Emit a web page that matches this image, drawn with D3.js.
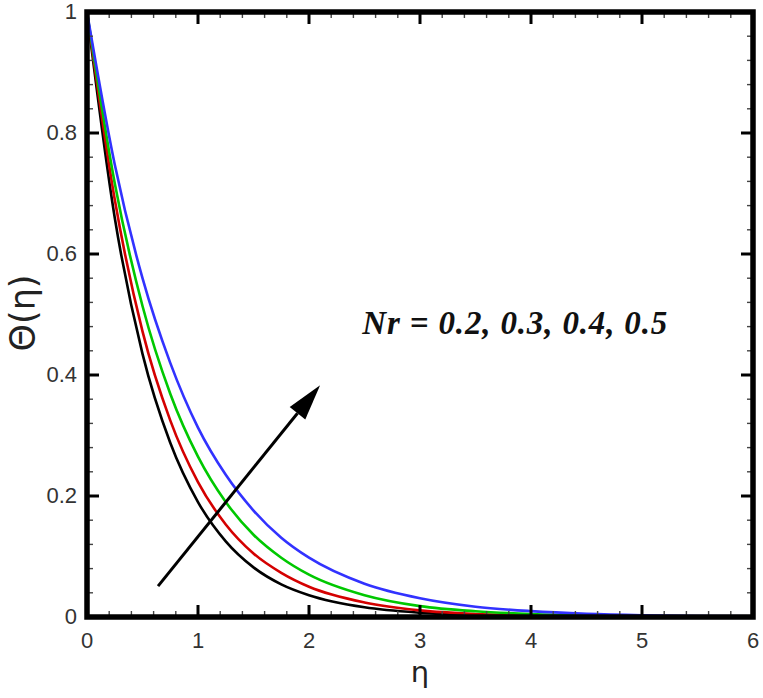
<!DOCTYPE html>
<body style="margin:0;background:#fff">
<svg width="763" height="698"></svg>
</body>
<script src="https://d3js.org/d3.v7.min.js"></script>
<script>

// eta grid and theta profiles
var eta = [0, 0.25, 0.5, 0.75, 1, 1.25, 1.5, 1.75, 2, 2.5, 3, 3.5, 4, 4.5, 5, 5.5, 6];
var nr02 = [1, 0.66, 0.435, 0.288, 0.19, 0.125, 0.082, 0.054, 0.036, 0.016, 0.007, 0.003, 0.0013, 0.0006, 0.0003, 0.0001, 0];
var nr03 = [1, 0.69, 0.472, 0.325, 0.223, 0.153, 0.105, 0.073, 0.05, 0.024, 0.011, 0.005, 0.0025, 0.0012, 0.0006, 0.0003, 0];
var nr04 = [1, 0.717, 0.514, 0.369, 0.265, 0.19, 0.136, 0.098, 0.07, 0.036, 0.018, 0.0095, 0.005, 0.0025, 0.0013, 0.0006, 0];
var nr05 = [1, 0.748, 0.56, 0.42, 0.313, 0.235, 0.176, 0.131, 0.098, 0.055, 0.031, 0.017, 0.0097, 0.0054, 0.003, 0.0017, 0.001];
var seriesColors = ["#000000", "#d40000", "#00c800", "#3232ff"];

var xTicks = [0, 1, 2, 3, 4, 5, 6];
var yTicks = [0, 0.2, 0.4, 0.6, 0.8, 1];
var yTickLabels = ["0", "0.2", "0.4", "0.6", "0.8", "1"];

// arrow and label, in data units
var arrowFrom = [0.64, 0.051], arrowTo = [2.1, 0.383];
var labelAt = [2.48, 0.469];

var svg = d3.select("svg");

var x = d3.scaleLinear().domain([0, 6]).range([87, 753]);
var y = d3.scaleLinear().domain([0, 1]).range([617, 12]);

var line = d3.line()
    .x(function(d) { return x(d[0]); })
    .y(function(d) { return y(d[1]); })
    .curve(d3.curveMonotoneX);

[nr02, nr03, nr04, nr05].forEach(function(s, i) {
  svg.append("path")
      .datum(eta.map(function(e, j) { return [e, s[j]]; }))
      .attr("fill", "none")
      .attr("stroke", seriesColors[i])
      .attr("stroke-width", 2.6)
      .attr("d", line);
});

// ticks on all four sides, pointing inward
var xMinor = d3.range(0, 6.001, 0.2);
var yMinor = d3.range(0, 1.0001, 0.04);

function tick(x1, y1, x2, y2, w, c) {
  svg.append("line").attr("x1", x1).attr("y1", y1).attr("x2", x2).attr("y2", y2)
      .attr("stroke", c).attr("stroke-width", w);
}

xMinor.forEach(function(v) {
  tick(x(v), y(0), x(v), y(0) - 6, 1.4, "#444");
  tick(x(v), y(1), x(v), y(1) + 6, 1.4, "#444");
});
yMinor.forEach(function(v) {
  tick(x(0), y(v), x(0) + 6, y(v), 1.4, "#444");
  tick(x(6), y(v), x(6) - 6, y(v), 1.4, "#444");
});
xTicks.forEach(function(v) {
  tick(x(v), y(0), x(v), y(0) - 12, 3, "#000");
  tick(x(v), y(1), x(v), y(1) + 12, 3, "#000");
});
yTicks.forEach(function(v) {
  tick(x(0), y(v), x(0) + 12, y(v), 3, "#000");
  tick(x(6), y(v), x(6) - 12, y(v), 3, "#000");
});

svg.append("rect")
    .attr("x", x(0)).attr("y", y(1))
    .attr("width", x(6) - x(0)).attr("height", y(0) - y(1))
    .attr("fill", "none").attr("stroke", "#000").attr("stroke-width", 5.5);

svg.selectAll(".xl").data(xTicks).enter().append("text")
    .attr("x", function(d) { return x(d); })
    .attr("y", y(0) + 31)
    .attr("text-anchor", "middle")
    .attr("font-family", "Liberation Sans, Arial, sans-serif")
    .attr("font-size", 22)
    .attr("fill", "#333")
    .text(function(d) { return d; });

svg.selectAll(".yl").data(yTicks).enter().append("text")
    .attr("x", x(0) - 10)
    .attr("y", function(d) { return y(d) + 7; })
    .attr("text-anchor", "end")
    .attr("font-family", "Liberation Sans, Arial, sans-serif")
    .attr("font-size", 22)
    .attr("fill", "#333")
    .text(function(d, i) { return yTickLabels[i]; });

svg.append("text")
    .attr("x", 420).attr("y", 682)
    .attr("text-anchor", "middle")
    .attr("font-family", "DejaVu Sans, sans-serif")
    .attr("font-size", 29)
    .attr("fill", "#222")
    .text("η");

svg.append("text")
    .attr("transform", "translate(35,313) rotate(-90)")
    .attr("text-anchor", "middle")
    .attr("font-family", "DejaVu Sans, sans-serif")
    .attr("font-size", 35)
    .attr("fill", "#222")
    .text("Θ(η)");

// arrow
var ax1 = x(arrowFrom[0]), ay1 = y(arrowFrom[1]);
var ax2 = x(arrowTo[0]), ay2 = y(arrowTo[1]);
var ang = Math.atan2(ay2 - ay1, ax2 - ax1);
var headLen = 36, headW = 10;
var bx = ax2 - headLen * Math.cos(ang), by = ay2 - headLen * Math.sin(ang);
svg.append("line")
    .attr("x1", ax1).attr("y1", ay1).attr("x2", bx).attr("y2", by)
    .attr("stroke", "#000").attr("stroke-width", 3);
svg.append("path")
    .attr("d", "M" + ax2 + "," + ay2 +
      "L" + (bx + headW * Math.sin(ang)) + "," + (by - headW * Math.cos(ang)) +
      "L" + (bx - headW * Math.sin(ang)) + "," + (by + headW * Math.cos(ang)) + "Z")
    .attr("fill", "#000");

svg.append("text")
    .attr("x", x(labelAt[0])).attr("y", y(labelAt[1]) + 1)
    .attr("font-family", "Liberation Serif, Times New Roman, serif")
    .attr("font-weight", "bold")
    .attr("font-style", "italic")
    .attr("font-size", 33)
    .attr("fill", "#111")
    .attr("textLength", 305)
    .text("Nr = 0.2, 0.3, 0.4, 0.5");

</script>
